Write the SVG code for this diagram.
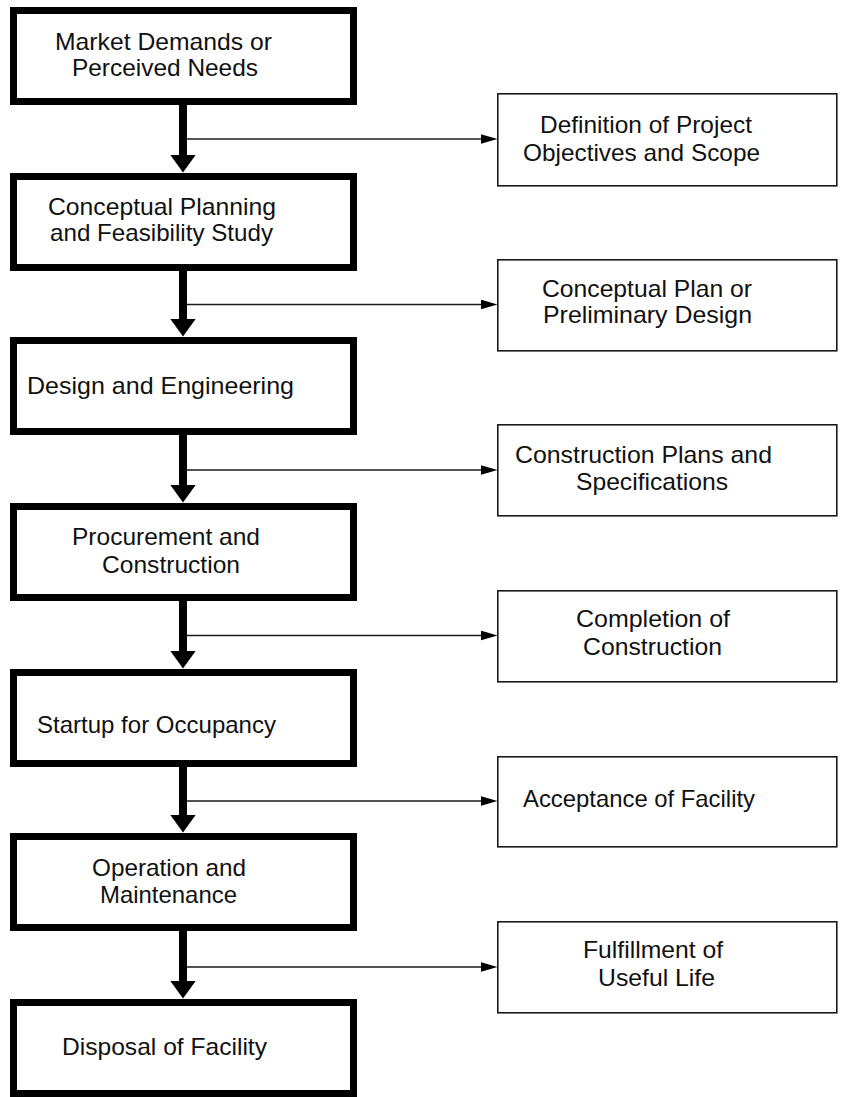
<svg xmlns="http://www.w3.org/2000/svg" width="841" height="1097" viewBox="0 0 841 1097">
<style>
.bg{fill:#ffffff}
.stage{fill:#ffffff;stroke:#000000;stroke-width:7}
.out{fill:#ffffff;stroke:#1a1a1a;stroke-width:1.6}
.t{font-family:"Liberation Sans",Arial,sans-serif;font-size:24px;fill:#111111}
.stem{stroke:#000000;stroke-width:8;fill:none}
.branch{stroke:#1a1a1a;stroke-width:1.6;fill:none}
</style>
<defs>
<marker id="bigHead" viewBox="0 0 18 26" markerUnits="userSpaceOnUse" markerWidth="18" markerHeight="26" refX="0.5" refY="13" orient="auto">
<path d="M0,0 L18,13 L0,26 Z" fill="#000000"/>
</marker>
<marker id="smallHead" viewBox="0 0 17 10" markerUnits="userSpaceOnUse" markerWidth="17" markerHeight="10" refX="0.5" refY="5" orient="auto">
<path d="M0,0 L17,5 L0,10 Z" fill="#000000"/>
</marker>
</defs>
<rect class="bg" x="0" y="0" width="841" height="1097"/>

<g id="connectors">
<line class="stem" x1="183" y1="105" x2="183" y2="155" marker-end="url(#bigHead)"/>
<line class="stem" x1="183" y1="271" x2="183" y2="319" marker-end="url(#bigHead)"/>
<line class="stem" x1="183" y1="435" x2="183" y2="485" marker-end="url(#bigHead)"/>
<line class="stem" x1="183" y1="601" x2="183" y2="651" marker-end="url(#bigHead)"/>
<line class="stem" x1="183" y1="767" x2="183" y2="815" marker-end="url(#bigHead)"/>
<line class="stem" x1="183" y1="931" x2="183" y2="981" marker-end="url(#bigHead)"/>
<line class="branch" x1="187" y1="139" x2="481" y2="139" marker-end="url(#smallHead)"/>
<line class="branch" x1="187" y1="304.5" x2="481" y2="304.5" marker-end="url(#smallHead)"/>
<line class="branch" x1="187" y1="470" x2="481" y2="470" marker-end="url(#smallHead)"/>
<line class="branch" x1="187" y1="635.5" x2="481" y2="635.5" marker-end="url(#smallHead)"/>
<line class="branch" x1="187" y1="801" x2="481" y2="801" marker-end="url(#smallHead)"/>
<line class="branch" x1="187" y1="967" x2="481" y2="967" marker-end="url(#smallHead)"/>
</g>

<g id="stage1">
<rect class="stage" x="13.5" y="10.5" width="340" height="91"/>
<text class="t" x="55" y="50" textLength="217" lengthAdjust="spacingAndGlyphs">Market Demands or</text>
<text class="t" x="72" y="76" textLength="186" lengthAdjust="spacingAndGlyphs">Perceived Needs</text>
</g>
<g id="stage2">
<rect class="stage" x="13.5" y="176.5" width="340" height="91"/>
<text class="t" x="48" y="215" textLength="228" lengthAdjust="spacingAndGlyphs">Conceptual Planning</text>
<text class="t" x="50" y="241" textLength="223" lengthAdjust="spacingAndGlyphs">and Feasibility Study</text>
</g>
<g id="stage3">
<rect class="stage" x="13.5" y="340.5" width="340" height="91"/>
<text class="t" x="27" y="394" textLength="267" lengthAdjust="spacingAndGlyphs">Design and Engineering</text>
</g>
<g id="stage4">
<rect class="stage" x="13.5" y="506.5" width="340" height="91"/>
<text class="t" x="72" y="545" textLength="188" lengthAdjust="spacingAndGlyphs">Procurement and</text>
<text class="t" x="102" y="573" textLength="138" lengthAdjust="spacingAndGlyphs">Construction</text>
</g>
<g id="stage5">
<rect class="stage" x="13.5" y="672.5" width="340" height="91"/>
<text class="t" x="37" y="733" textLength="239" lengthAdjust="spacingAndGlyphs">Startup for Occupancy</text>
</g>
<g id="stage6">
<rect class="stage" x="13.5" y="836.5" width="340" height="91"/>
<text class="t" x="92" y="876" textLength="154" lengthAdjust="spacingAndGlyphs">Operation and</text>
<text class="t" x="100" y="903" textLength="137" lengthAdjust="spacingAndGlyphs">Maintenance</text>
</g>
<g id="stage7">
<rect class="stage" x="13.5" y="1002.5" width="340" height="91"/>
<text class="t" x="62" y="1055" textLength="205" lengthAdjust="spacingAndGlyphs">Disposal of Facility</text>
</g>

<g id="outcome1">
<rect class="out" x="497.8" y="93.8" width="339" height="92"/>
<text class="t" x="540" y="133" textLength="212" lengthAdjust="spacingAndGlyphs">Definition of Project</text>
<text class="t" x="523" y="161" textLength="237" lengthAdjust="spacingAndGlyphs">Objectives and Scope</text>
</g>
<g id="outcome2">
<rect class="out" x="497.8" y="259.8" width="339" height="91"/>
<text class="t" x="542" y="297" textLength="210" lengthAdjust="spacingAndGlyphs">Conceptual Plan or</text>
<text class="t" x="543" y="323" textLength="209" lengthAdjust="spacingAndGlyphs">Preliminary Design</text>
</g>
<g id="outcome3">
<rect class="out" x="497.8" y="424.8" width="339" height="91"/>
<text class="t" x="515" y="463" textLength="257" lengthAdjust="spacingAndGlyphs">Construction Plans and</text>
<text class="t" x="576" y="490" textLength="152" lengthAdjust="spacingAndGlyphs">Specifications</text>
</g>
<g id="outcome4">
<rect class="out" x="497.8" y="590.8" width="339" height="91"/>
<text class="t" x="576" y="627" textLength="154" lengthAdjust="spacingAndGlyphs">Completion of</text>
<text class="t" x="583" y="655" textLength="139" lengthAdjust="spacingAndGlyphs">Construction</text>
</g>
<g id="outcome5">
<rect class="out" x="497.8" y="756.8" width="339" height="90"/>
<text class="t" x="523" y="807" textLength="232" lengthAdjust="spacingAndGlyphs">Acceptance of Facility</text>
</g>
<g id="outcome6">
<rect class="out" x="497.8" y="921.8" width="339" height="91"/>
<text class="t" x="583" y="958" textLength="140" lengthAdjust="spacingAndGlyphs">Fulfillment of</text>
<text class="t" x="598" y="986" textLength="117" lengthAdjust="spacingAndGlyphs">Useful Life</text>
</g>
</svg>
